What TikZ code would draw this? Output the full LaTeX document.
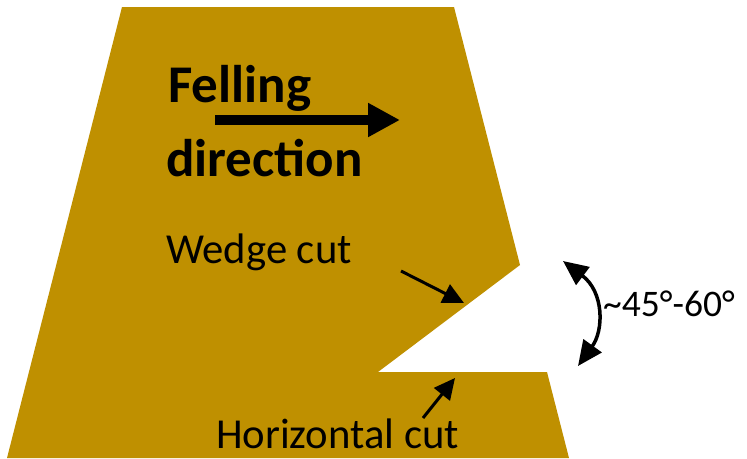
\documentclass[tikz,border=0pt]{standalone}
\usepackage{fontspec}
\setmainfont{Carlito}
\usetikzlibrary{arrows.meta}
\definecolor{trunkgold}{RGB}{191,144,0}
\tikzset{
  label text/.style={font=\fontsize{42.7}{50}\selectfont, inner sep=0pt, anchor=base west},
  title text/.style={font=\fontsize{53}{60}\selectfont\bfseries, inner sep=0pt, anchor=base west},
  pointer/.style={line width=3pt, -{Triangle[length=21pt,width=20pt]}},
}
\begin{document}
\begin{tikzpicture}[x=1pt,y=-1pt]
\useasboundingbox (0,0) rectangle (747,458);
% trunk and notch
\coordinate (tl) at (122,7); \coordinate (tr) at (454,7);
\coordinate (br) at (569,458); \coordinate (bl) at (7,458);
\coordinate (wt) at (520,265); \coordinate (wl) at (378,372); \coordinate (wr) at (547,372);
\fill[trunkgold] (tl)--(tr)--(wt)--(wl)--(wr)--(br)--(bl)--cycle;
% felling direction
\node[title text] (fell) at (168,102) {Felling};
\node[title text] (dir) at (166,176) {direction};
\coordinate (fa) at (215,120); \coordinate (fb) at (400,120);
\draw[line width=10pt,-{Triangle[length=32pt,width=32pt]}] (fa)--(fb);
% cuts
\node[label text] (wedge) at (166,263) {Wedge cut};
\coordinate (wa) at (401,271); \coordinate (wb) at (464,303);
\draw[pointer] (wa)--(wb);
\node[label text] (horiz) at (216,448) {Horizontal cut};
\coordinate (ha) at (423,418); \coordinate (hb) at (455,378);
\draw[pointer] (ha)--(hb);
% angle
\node[label text,font=\fontsize{37.5}{44}\selectfont] (angle) at (603,316) {\char"007E 45°-60°};
\coordinate (aa) at (563,261); \coordinate (ab) at (578,366);
\draw[line width=3.5pt,{Triangle[length=25pt,width=22pt]}-{Triangle[length=25pt,width=22pt]}] (aa) .. controls (604,292) and (604,330) .. (ab);
\end{tikzpicture}
\end{document}
